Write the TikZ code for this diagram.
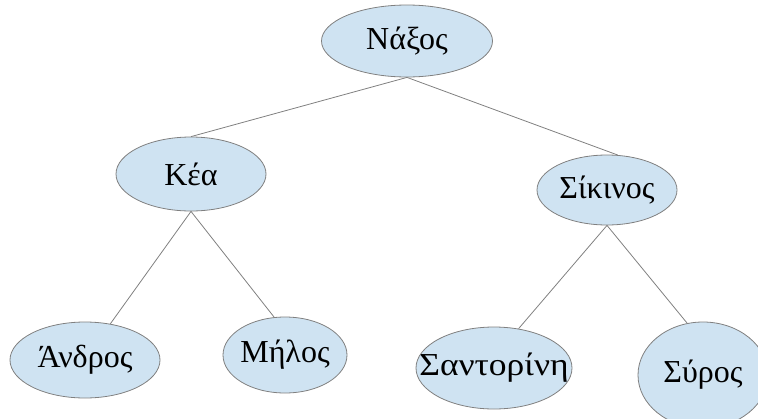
\documentclass[tikz,border=0pt]{standalone}
\usepackage{fontspec}
\setmainfont{Liberation Serif}
\usetikzlibrary{shapes.geometric}

\definecolor{islandfill}{RGB}{207,227,242}
\definecolor{islandline}{RGB}{128,128,128}
\newcommand{\islandname}[2][1]{\makebox[0pt]{\scalebox{#1}[1]{#2}}}

\begin{document}
\begin{tikzpicture}[x=1pt,y=-1pt]
% Styles
\tikzstyle{island}=[ellipse,draw=islandline,fill=islandfill,line width=0.8pt,inner sep=0pt,font=\fontsize{32}{36}\selectfont]
\tikzstyle{branch}=[draw=islandline,line width=0.8pt]

% Frame of the picture (pixel units, y down).
\useasboundingbox (0,0) rectangle (758,418);

% Islands.
\node[island,minimum width=171pt,minimum height=72pt] (N) at (407,41) {\islandname{Νάξος}};	% Root.
\node[island,minimum width=150pt,minimum height=74pt] (K) at (191,174) {\islandname{Κέα}};
\node[island,minimum width=140pt,minimum height=70pt] (S) at (607,190) {\islandname{Σίκινος}};
\node[island,minimum width=150pt,minimum height=76pt] (A) at (85,360) {\islandname{Άνδρος}};
\node[island,minimum width=124pt,minimum height=76pt] (M) at (285,355) {\islandname{Μήλος}};
\node[island,minimum width=156pt,minimum height=82pt] (T) at (494,368) {\islandname[1.11]{Σαντορίνη}};
\node[island,minimum width=130pt,minimum height=106pt] (Y) at (703,375) {\islandname{Σύρος}};	% Cut by the frame.

% Branches.
\draw[branch] (N.south) -- (K.north);
\draw[branch] (N.south) -- (S.73);
\draw[branch] (K.south) -- (A.55);
\draw[branch] (K.south) -- (M.106);
\draw[branch] (S.south) -- (T.58);
\draw[branch] (S.south) -- (Y.107);
\end{tikzpicture}
\end{document}
